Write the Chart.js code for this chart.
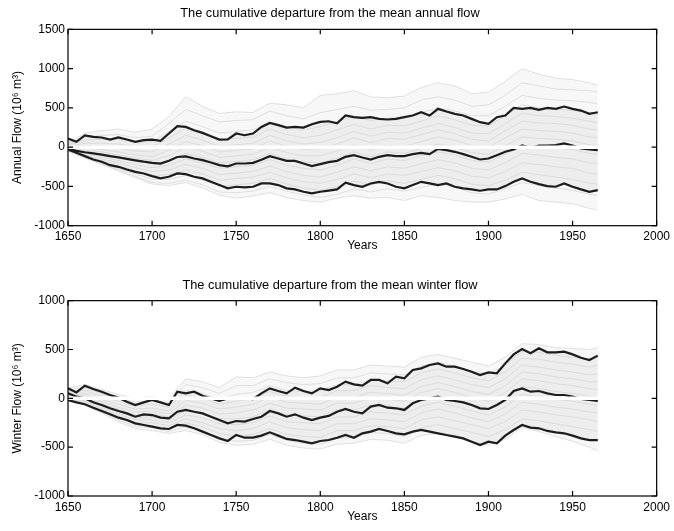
<!DOCTYPE html>
<html>
<head>
<meta charset="utf-8">
<script src="https://cdn.jsdelivr.net/npm/chart.js@4.4.1/dist/chart.umd.min.js"></script>
<style>
  body { margin: 0; background: #fff; }
  #wrap { position: relative; width: 674px; height: 531px; }
  #annual { position: absolute; left: 0; top: 0; }
  #winter { position: absolute; left: 0; top: 265px; }
</style>
</head>
<body>
<div id="wrap">
  <canvas id="annual" width="674" height="265"></canvas>
  <canvas id="winter" width="674" height="266"></canvas>
</div>
<script>
// anos das curvas principais (passo de 5 anos) e das simulacoes (passo de 10 anos)
const anos5 = [1650,1655,1660,1665,1670,1675,1680,1685,1690,1695,1700,1705,1710,1715,1720,1725,1730,1735,1740,1745,
  1750,1755,1760,1765,1770,1775,1780,1785,1790,1795,1800,1805,1810,1815,1820,1825,1830,1835,1840,1845,
  1850,1855,1860,1865,1870,1875,1880,1885,1890,1895,1900,1905,1910,1915,1920,1925,1930,1935,1940,1945,
  1950,1955,1960,1965];
const anos10 = [1650,1660,1670,1680,1690,1700,1710,1720,1730,1740,1750,1760,1770,1780,1790,1800,1810,1820,1830,1840,
  1850,1860,1870,1880,1890,1900,1910,1920,1930,1940,1950,1960,1965];
const anosZero = [1650, 2000];
const linhaZero = [0, 0];

const xTicks = { min: 1650, max: 2000, step: 50 };
const annualTicks = { min: -1000, max: 1500, step: 500 };
const winterTicks = { min: -1000, max: 1000, step: 500 };

// vazao anual: limite superior, mediana, limite inferior
const annualUpper = [110,68,150,130,123,97,123,97,68,89,97,80,174,267,258,216,182,140,97,100,
  174,152,174,258,309,280,250,258,250,292,322,330,305,403,382,373,382,360,352,360,
  382,403,445,403,488,454,424,403,360,318,297,382,403,500,488,500,475,500,488,517,
  488,466,424,445];
const annualMedian = [-20,-47,-65,-80,-95,-114,-131,-150,-168,-185,-199,-210,-174,-125,-118,-144,-165,-195,-229,-245,
  -208,-208,-200,-160,-114,-144,-174,-174,-208,-241,-216,-190,-174,-123,-102,-131,-157,-123,-102,-114,
  -114,-89,-72,-89,-21,-38,-59,-89,-123,-157,-144,-102,-59,-30,21,-10,21,21,25,47,
  21,-17,-30,-38];
const annualLower = [-30,-72,-114,-157,-186,-229,-250,-284,-314,-335,-369,-398,-377,-335,-343,-377,-398,-441,-483,-525,
  -504,-513,-504,-462,-462,-483,-525,-538,-568,-589,-568,-553,-538,-453,-483,-504,-462,-441,-462,-504,
  -525,-483,-441,-462,-483,-462,-504,-525,-538,-555,-538,-538,-496,-441,-398,-441,-470,-496,-504,-462,
  -504,-538,-568,-547];

// simulacoes da vazao anual (linhas cinzas)
const annualRuns = [
  [40,180,210,230,190,230,390,640,520,430,450,440,560,540,500,660,680,720,640,630,650,760,820,780,680,700,840,1000,930,880,860,820,790],
  [30,130,150,160,120,140,300,480,400,320,340,350,460,400,360,440,480,520,470,480,500,600,640,600,520,540,660,820,780,740,730,720,700],
  [20,90,100,100,60,70,200,330,260,180,200,220,320,260,220,260,330,390,340,370,380,440,500,460,400,400,520,660,620,600,590,570,550],
  [10,50,50,40,10,0,120,240,170,90,110,130,230,160,120,150,220,290,230,280,270,330,400,350,280,270,400,540,500,480,470,440,420],
  [0,20,10,-10,-50,-60,40,150,90,10,30,50,150,80,40,60,120,200,140,190,180,240,300,250,180,170,300,430,400,390,370,330,310],
  [-10,-10,-30,-60,-100,-120,-40,70,20,-60,-40,-20,80,10,-30,-20,40,120,60,110,100,160,220,170,100,80,210,330,310,300,280,230,220],
  [-20,-40,-60,-100,-140,-170,-110,0,-50,-130,-110,-90,0,-70,-110,-110,-50,30,-30,20,10,70,130,90,20,0,120,230,210,200,180,130,120],
  [-20,-60,-90,-130,-180,-210,-170,-80,-130,-200,-180,-160,-80,-150,-190,-200,-140,-60,-120,-60,-80,-20,40,0,-70,-90,20,130,110,100,80,30,20],
  [-30,-80,-120,-170,-220,-260,-230,-150,-200,-270,-250,-230,-160,-230,-270,-290,-230,-150,-210,-150,-170,-110,-60,-100,-170,-190,-90,30,10,-10,-30,-80,-90],
  [-30,-100,-150,-200,-260,-310,-290,-220,-270,-350,-330,-310,-240,-310,-360,-380,-320,-250,-300,-250,-270,-210,-160,-200,-270,-290,-200,-80,-100,-130,-150,-200,-210],
  [-40,-110,-170,-240,-300,-360,-350,-290,-340,-420,-400,-380,-320,-390,-440,-460,-410,-340,-390,-340,-360,-310,-260,-300,-370,-390,-310,-200,-220,-250,-270,-330,-340],
  [-40,-120,-190,-270,-340,-410,-410,-360,-420,-500,-480,-460,-400,-470,-520,-550,-500,-430,-480,-430,-460,-410,-360,-400,-470,-490,-420,-320,-350,-380,-410,-460,-470],
  [-50,-130,-210,-290,-370,-450,-460,-420,-480,-570,-580,-560,-500,-560,-610,-640,-600,-530,-570,-530,-560,-510,-470,-510,-580,-600,-530,-450,-490,-520,-550,-600,-610],
  [-50,-140,-220,-300,-390,-470,-490,-450,-520,-610,-650,-620,-580,-640,-680,-700,-650,-620,-650,-640,-680,-620,-640,-680,-700,-700,-660,-600,-680,-700,-720,-780,-800]
];

// vazao de inverno: limite superior, mediana, limite inferior
const winterUpper = [102,61,130,96,68,34,7,-34,-68,-41,-17,-41,-68,68,51,68,27,0,-27,0,
  -7,0,-7,51,102,75,51,109,75,51,102,85,119,171,143,130,188,188,154,222,
  205,290,307,341,358,324,324,300,273,239,266,256,358,450,505,461,512,471,471,478,
  450,416,392,437];
const winterMedian = [51,17,0,-41,-68,-102,-130,-154,-188,-164,-171,-198,-205,-137,-119,-137,-154,-188,-222,-256,
  -232,-239,-212,-188,-130,-154,-188,-164,-198,-222,-198,-180,-137,-109,-137,-154,-85,-68,-96,-102,
  -119,-51,-17,0,17,-17,-27,-41,-68,-102,-109,-68,-17,75,102,68,75,51,34,34,
  17,-7,-17,-27];
const winterLower = [-17,-41,-61,-96,-130,-164,-198,-222,-256,-273,-290,-307,-314,-273,-280,-307,-341,-375,-410,-437,
  -375,-403,-403,-382,-348,-382,-416,-427,-444,-461,-437,-427,-403,-375,-403,-358,-341,-314,-334,-358,
  -369,-341,-324,-341,-358,-375,-392,-410,-444,-478,-444,-461,-382,-324,-273,-300,-307,-334,-348,-358,
  -382,-410,-427,-427];

// simulacoes da vazao de inverno (linhas cinzas)
const winterRuns = [
  [110,140,90,40,0,20,-10,200,170,110,220,210,270,230,210,230,290,290,340,330,320,420,450,410,370,330,420,560,550,520,510,500,520],
  [90,110,50,0,-40,-20,-50,140,110,50,130,130,200,160,140,150,210,210,260,250,240,330,370,330,280,250,340,480,470,440,420,400,420],
  [80,80,20,-30,-80,-60,-90,80,50,-10,40,60,130,80,70,80,140,140,190,180,170,260,300,260,210,180,270,410,400,370,350,320,340],
  [70,50,-10,-60,-110,-100,-130,30,0,-60,-30,0,70,20,10,10,80,80,130,110,100,190,230,190,140,110,200,340,320,290,270,240,250],
  [60,30,-30,-90,-140,-130,-160,-20,-50,-110,-90,-60,10,-40,-50,-60,10,10,60,50,30,120,160,120,70,40,130,270,250,220,200,170,170],
  [50,10,-50,-110,-170,-160,-190,-70,-100,-160,-150,-120,-50,-100,-110,-120,-50,-50,0,-10,-30,60,100,60,10,-30,60,200,180,150,130,100,90],
  [40,0,-70,-130,-200,-190,-220,-120,-150,-210,-210,-190,-110,-170,-180,-190,-120,-120,-70,-80,-100,-10,30,-10,-60,-100,-10,120,100,70,50,20,10],
  [30,-20,-90,-160,-220,-220,-250,-170,-200,-260,-270,-250,-180,-240,-250,-260,-190,-190,-140,-150,-170,-80,-40,-80,-130,-170,-90,40,20,-10,-30,-60,-70],
  [20,-30,-110,-180,-250,-250,-280,-210,-250,-310,-330,-310,-240,-300,-320,-330,-260,-260,-210,-220,-240,-150,-110,-150,-200,-240,-160,-40,-60,-90,-110,-140,-150],
  [10,-50,-120,-200,-270,-280,-310,-250,-290,-360,-390,-370,-310,-370,-390,-400,-330,-330,-280,-290,-310,-220,-190,-230,-270,-310,-240,-120,-140,-170,-190,-220,-240],
  [0,-60,-140,-220,-290,-300,-340,-290,-330,-410,-440,-430,-370,-430,-460,-470,-410,-400,-350,-360,-390,-300,-270,-310,-350,-390,-320,-210,-230,-260,-290,-320,-340],
  [-10,-70,-150,-240,-310,-330,-360,-330,-370,-450,-480,-470,-420,-480,-510,-520,-470,-460,-420,-430,-460,-380,-360,-400,-440,-480,-420,-300,-340,-390,-440,-500,-540]
];

const fonte = "'Liberation Sans', Arial, Helvetica, sans-serif";

function pontos(anos, valores) {
  return anos.map((ano, i) => ({ x: ano, y: valores[i] }));
}

// caixa em volta do grafico com marcas de escala para dentro
const moldura = {
  id: 'moldura',
  afterDatasetsDraw(chart) {
    const { ctx, chartArea: a, scales: { x, y } } = chart;
    ctx.save();
    ctx.strokeStyle = '#000';
    ctx.lineWidth = 1.2;
    ctx.strokeRect(a.left, a.top, a.right - a.left, a.bottom - a.top);
    ctx.beginPath();
    x.ticks.forEach(t => {
      const px = x.getPixelForValue(t.value);
      ctx.moveTo(px, a.bottom); ctx.lineTo(px, a.bottom - 5);
      ctx.moveTo(px, a.top); ctx.lineTo(px, a.top + 5);
    });
    y.ticks.forEach(t => {
      const py = y.getPixelForValue(t.value);
      ctx.moveTo(a.left, py); ctx.lineTo(a.left + 5, py);
      ctx.moveTo(a.right, py); ctx.lineTo(a.right - 5, py);
    });
    ctx.stroke();
    ctx.restore();
  }
};

function plotarPainel(id, cfg) {
  const datasets = [];
  // linha branca no zero, por cima de tudo
  datasets.push({ data: pontos(anosZero, linhaZero), borderColor: '#fff', borderWidth: 3.5, order: 0, fill: false });
  // limites e mediana; a faixa entre os limites fica cinza claro
  datasets.push({ data: pontos(anos5, cfg.upper), borderColor: '#1c1c1c', borderWidth: 2.2, order: 1,
    fill: { target: 3 }, backgroundColor: '#ededed' });
  datasets.push({ data: pontos(anos5, cfg.median), borderColor: '#1c1c1c', borderWidth: 2.2, order: 1, fill: false });
  datasets.push({ data: pontos(anos5, cfg.lower), borderColor: '#1c1c1c', borderWidth: 2.2, order: 1, fill: false });
  const ultima = 4 + cfg.runs.length - 1;
  cfg.runs.forEach((v, i) => {
    datasets.push({
      data: pontos(anos10, v), borderColor: '#d4d4d4', borderWidth: 0.7, order: 2,
      fill: i === 0 ? { target: ultima } : false, backgroundColor: '#f7f7f7'
    });
  });

  const ctx = document.getElementById(id).getContext('2d');
  return new Chart(ctx, {
    type: 'line',
    data: { datasets },
    options: {
      responsive: false,
      animation: false,
      devicePixelRatio: 1,
      elements: { point: { radius: 0 }, line: { tension: 0 } },
      layout: { padding: { left: 0, right: 14, top: 0, bottom: 0 } },
      plugins: {
        legend: { display: false },
        tooltip: { enabled: false },
        filler: { drawTime: 'beforeDatasetsDraw' },
        title: {
          display: true,
          text: cfg.title,
          color: '#000',
          font: { family: fonte, size: 12.8, weight: 'normal' },
          padding: cfg.titlePad
        }
      },
      scales: {
        x: {
          type: 'linear',
          min: xTicks.min,
          max: xTicks.max,
          afterFit: s => { s.height = cfg.xHeight; },
          grid: { display: false, drawTicks: false },
          border: { display: false },
          ticks: {
            stepSize: xTicks.step,
            color: '#000',
            padding: 4,
            maxRotation: 0,
            font: { family: fonte, size: 12 },
            callback: v => String(v)
          },
          title: {
            display: true,
            text: 'Years',
            color: '#000',
            font: { family: fonte, size: 12 },
            padding: { top: 0, bottom: cfg.yearsPad }
          }
        },
        y: {
          min: cfg.yTicks.min,
          max: cfg.yTicks.max,
          afterFit: s => { s.width = 68; },
          grid: { display: false, drawTicks: false },
          border: { display: false },
          ticks: {
            stepSize: cfg.yTicks.step,
            color: '#000',
            padding: 3,
            font: { family: fonte, size: 12 },
            callback: v => String(v)
          },
          title: {
            display: true,
            text: cfg.yLabel,
            color: '#000',
            font: { family: fonte, size: 12 },
            padding: { top: 10, bottom: 0 }
          }
        }
      }
    },
    plugins: [moldura]
  });
}

plotarPainel('annual', {
  title: 'The cumulative departure from the mean annual flow',
  yLabel: 'Annual Flow (10\u2076 m\u00b3)',
  upper: annualUpper, median: annualMedian, lower: annualLower,
  runs: annualRuns,
  yTicks: annualTicks,
  titlePad: { top: 6, bottom: 8 },
  xHeight: 39.3,
  yearsPad: 12.5
});

plotarPainel('winter', {
  title: 'The cumulative departure from the mean winter flow',
  yLabel: 'Winter Flow (10\u2076 m\u00b3)',
  upper: winterUpper, median: winterMedian, lower: winterLower,
  runs: winterRuns,
  yTicks: winterTicks,
  titlePad: { top: 12.8, bottom: 7.5 },
  xHeight: 35,
  yearsPad: 7
});
</script>
</body>
</html>
